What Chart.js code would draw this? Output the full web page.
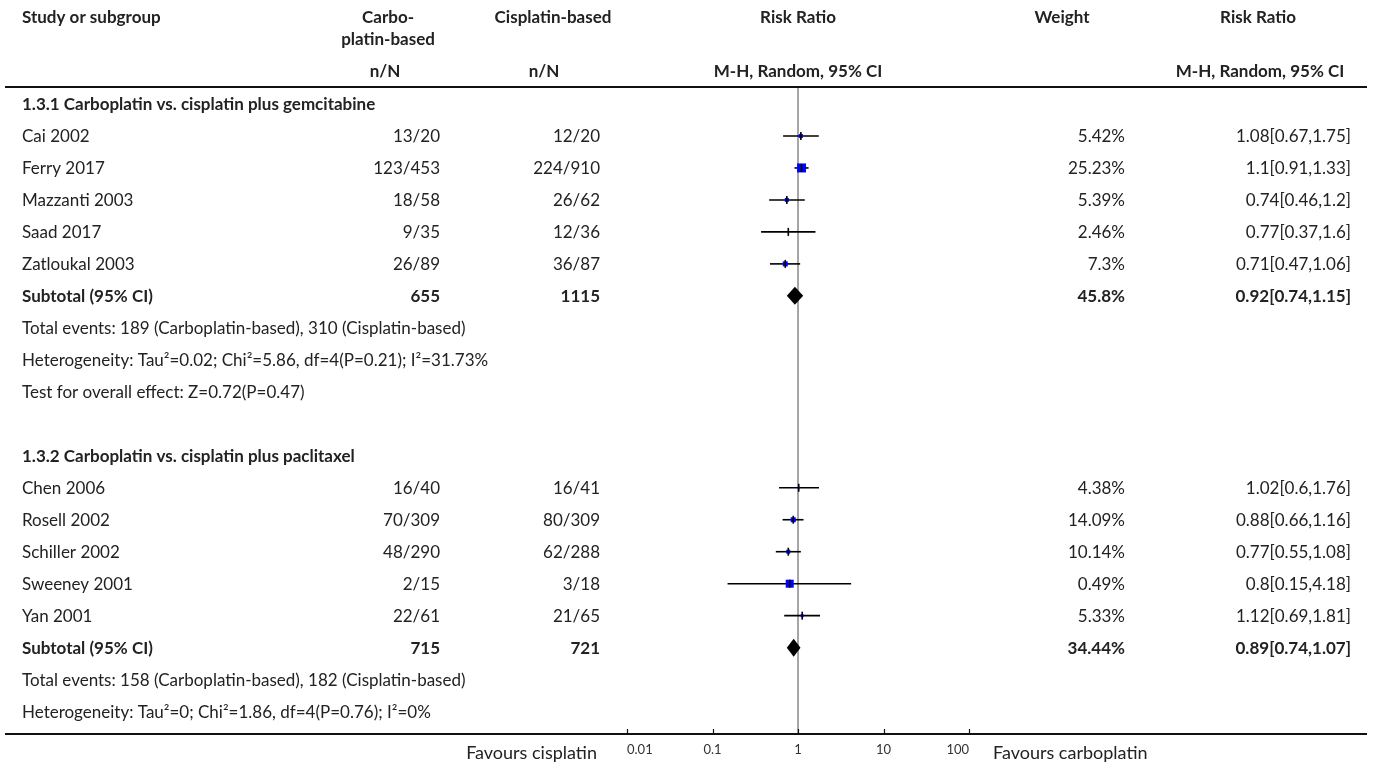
<!DOCTYPE html>
<html>
<head>
<meta charset="utf-8">
<script src="https://cdn.jsdelivr.net/npm/chart.js@4.4.1/dist/chart.umd.min.js"></script>
<style>
  html, body { margin: 0; padding: 0; background: #ffffff; }
  #wrap { width: 1375px; height: 763px; }
</style>
</head>
<body>
<div id="wrap"><canvas id="forest" width="1375" height="763"></canvas></div>
<script>
// ---- Forest plot data: carboplatin-based vs cisplatin-based ----
const groupTitles = [
  '1.3.1 Carboplatin vs. cisplatin plus gemcitabine',
  '1.3.2 Carboplatin vs. cisplatin plus paclitaxel'
];
const studyNames = ['Cai 2002', 'Ferry 2017', 'Mazzanti 2003', 'Saad 2017', 'Zatloukal 2003',
                    'Chen 2006', 'Rosell 2002', 'Schiller 2002', 'Sweeney 2001', 'Yan 2001'];
const studyGroup   = [0, 0, 0, 0, 0, 1, 1, 1, 1, 1];
const carboEvents  = [13, 123, 18, 9, 26, 16, 70, 48, 2, 22];
const carboTotals  = [20, 453, 58, 35, 89, 40, 309, 290, 15, 61];
const cisEvents    = [12, 224, 26, 12, 36, 16, 80, 62, 3, 21];
const cisTotals    = [20, 910, 62, 36, 87, 41, 309, 288, 18, 65];
const weights      = [5.42, 25.23, 5.39, 2.46, 7.3, 4.38, 14.09, 10.14, 0.49, 5.33];
const riskRatios   = [1.08, 1.1, 0.74, 0.77, 0.71, 1.02, 0.88, 0.77, 0.8, 1.12];
const ciLower      = [0.67, 0.91, 0.46, 0.37, 0.47, 0.6, 0.66, 0.55, 0.15, 0.69];
const ciUpper      = [1.75, 1.33, 1.2, 1.6, 1.06, 1.76, 1.16, 1.08, 4.18, 1.81];

const subtotalCarboN = [655, 715];
const subtotalCisN   = [1115, 721];
const subtotalWeight = [45.8, 34.44];
const subtotalRR     = [0.92, 0.89];
const subtotalLower  = [0.74, 0.74];
const subtotalUpper  = [1.15, 1.07];
const totalEventsCarbo = [189, 158];
const totalEventsCis   = [310, 182];
const heterogeneity = [
  'Heterogeneity: Tau\u00b2=0.02; Chi\u00b2=5.86, df=4(P=0.21); I\u00b2=31.73%',
  'Heterogeneity: Tau\u00b2=0; Chi\u00b2=1.86, df=4(P=0.76); I\u00b2=0%'
];
const overallEffect = ['Test for overall effect: Z=0.72(P=0.47)', null];
const axisTicks = [0.01, 0.1, 1, 10, 100];
const favoursLeft = 'Favours cisplatin';
const favoursRight = 'Favours carboplatin';

// ---- Marker styling (box side in px for each study) ----
const boxSide = [4, 9, 4, 0, 5, 2, 5, 4, 8, 3];
const FONT = 'Lato, "Noto Sans", sans-serif';
const FONT_SIZE = 17;
const TEXT = '#222222';

// Build the row layout: each table line sits on an integer row of the y scale.
const rows = [];
const studyRow = [];
const subtotalRow = [];
groupTitles.forEach((title, g) => {
  rows.push({ kind: 'title', text: title });
  studyNames.forEach((name, i) => {
    if (studyGroup[i] !== g) return;
    studyRow[i] = rows.length;
    rows.push({ kind: 'study', i });
  });
  subtotalRow[g] = rows.length;
  rows.push({ kind: 'subtotal', g });
  rows.push({ kind: 'note', text: 'Total events: ' + totalEventsCarbo[g] + ' (Carboplatin-based), ' + totalEventsCis[g] + ' (Cisplatin-based)' });
  rows.push({ kind: 'note', text: heterogeneity[g] });
  if (overallEffect[g]) rows.push({ kind: 'note', text: overallEffect[g] });
  if (g < groupTitles.length - 1) rows.push({ kind: 'blank' });
});
const lastRow = rows.length - 1;

// Confidence-interval whiskers, one line dataset per study
const ciSets = studyNames.map((n, i) => ({
  type: 'line',
  data: [{ x: ciLower[i], y: studyRow[i] }, { x: ciUpper[i], y: studyRow[i] }],
  borderColor: '#000000', borderWidth: 1.6, pointRadius: 0, order: 3
}));

const refLine = {
  type: 'line',
  data: [{ x: 1, y: -0.5 }, { x: 1, y: lastRow + 0.7 }],
  borderColor: '#a6a6a6', borderWidth: 2, pointRadius: 0, order: 5
};

const boxSet = {
  type: 'scatter',
  data: studyNames.map((n, i) => ({ x: riskRatios[i], y: studyRow[i] })),
  pointStyle: 'rect',
  pointRadius: boxSide.map(s => s / Math.SQRT2),
  backgroundColor: '#0000ff', borderWidth: 0, order: 2
};

const tickSet = {
  type: 'scatter',
  data: studyNames.map((n, i) => ({ x: riskRatios[i], y: studyRow[i] })),
  pointStyle: 'line', rotation: 90, pointRadius: 4,
  borderColor: '#000000', borderWidth: 1.6, order: 1
};

// Pooled-estimate diamonds, rules, axis ticks, and all table text
const forestPlugin = {
  id: 'forestTable',
  afterDatasetsDraw(chart) {
    const { ctx, scales: { x, y } } = chart;
    ctx.save();
    ctx.fillStyle = '#000000';
    subtotalRR.forEach((rr, g) => {
      const py = y.getPixelForValue(subtotalRow[g]);
      ctx.beginPath();
      ctx.moveTo(x.getPixelForValue(subtotalLower[g]), py);
      ctx.lineTo(x.getPixelForValue(rr), py - 9);
      ctx.lineTo(x.getPixelForValue(subtotalUpper[g]), py);
      ctx.lineTo(x.getPixelForValue(rr), py + 9);
      ctx.closePath();
      ctx.fill();
    });
    ctx.restore();
  },
  afterDraw(chart) {
    const { ctx, chartArea, scales: { x, y } } = chart;
    const W = chart.width;
    ctx.save();
    // rules
    ctx.strokeStyle = '#111111';
    ctx.lineWidth = 2;
    ctx.beginPath();
    ctx.moveTo(5, 87); ctx.lineTo(W - 8, 87);
    ctx.moveTo(5, chartArea.bottom); ctx.lineTo(W - 8, chartArea.bottom);
    ctx.stroke();
    ctx.lineWidth = 1.2;
    ctx.beginPath();
    axisTicks.forEach(v => {
      const px = Math.round(x.getPixelForValue(v)) + 0.5;
      ctx.moveTo(px, chartArea.bottom);
      ctx.lineTo(px, chartArea.bottom - 5);
    });
    ctx.stroke();

    const text = (s, px, py, align, bold, size) => {
      ctx.font = (bold ? 'bold ' : '') + (size || FONT_SIZE) + 'px ' + FONT;
      ctx.textAlign = align;
      ctx.textBaseline = 'middle';
      ctx.fillStyle = TEXT;
      ctx.fillText(s, px, py);
    };
    // header
    text('Study or subgroup', 22, 18, 'left', true);
    text('Carbo-', 388, 18, 'center', true);
    text('platin-based', 388, 40, 'center', true);
    text('Cisplatin-based', 553, 18, 'center', true);
    text('Risk Ratio', 798, 18, 'center', true);
    text('Weight', 1062, 18, 'center', true);
    text('Risk Ratio', 1258, 18, 'center', true);
    text('n/N', 385, 72, 'center', true);
    text('n/N', 544, 72, 'center', true);
    text('M-H, Random, 95% CI', 798, 72, 'center', true);
    text('M-H, Random, 95% CI', 1260, 72, 'center', true);

    rows.forEach((r, k) => {
      const py = y.getPixelForValue(k) + 1;
      if (r.kind === 'title') text(r.text, 22, py, 'left', true);
      else if (r.kind === 'note') text(r.text, 22, py, 'left', false);
      else if (r.kind === 'study') {
        const i = r.i;
        text(studyNames[i], 22, py, 'left', false);
        text(carboEvents[i] + '/' + carboTotals[i], 440, py, 'right', false);
        text(cisEvents[i] + '/' + cisTotals[i], 600, py, 'right', false);
        text(weights[i] + '%', 1125, py, 'right', false);
        text(riskRatios[i] + '[' + ciLower[i] + ',' + ciUpper[i] + ']', 1351, py, 'right', false);
      } else if (r.kind === 'subtotal') {
        const g = r.g;
        text('Subtotal (95% CI)', 22, py, 'left', true);
        text(String(subtotalCarboN[g]), 440, py, 'right', true);
        text(String(subtotalCisN[g]), 600, py, 'right', true);
        text(subtotalWeight[g] + '%', 1125, py, 'right', true);
        text(subtotalRR[g] + '[' + subtotalLower[g] + ',' + subtotalUpper[g] + ']', 1351, py, 'right', true);
      }
    });
    const fy = chartArea.bottom + 19;
    text(favoursLeft, x.getPixelForValue(0.01) - 30, fy, 'right', false, 18);
    text(favoursRight, x.getPixelForValue(100) + 24, fy, 'left', false, 18);
    ctx.restore();
  }
};

new Chart(document.getElementById('forest'), {
  type: 'scatter',
  data: { datasets: [...ciSets, refLine, boxSet, tickSet] },
  options: {
    responsive: false,
    animation: false,
    devicePixelRatio: 1,
    layout: { padding: { left: 627, right: 1375 - 969, top: 88, bottom: 0 } },
    plugins: { legend: { display: false }, tooltip: { enabled: false } },
    scales: {
      x: {
        type: 'logarithmic',
        min: 0.01, max: 100,
        afterBuildTicks: s => { s.ticks = axisTicks.map(v => ({ value: v })); },
        afterFit: s => { s.height = 29; },
        grid: { display: false, drawTicks: false },
        border: { display: false },
        ticks: {
          autoSkip: false, maxRotation: 0, padding: 8, align: 'inner',
          color: '#333333',
          font: { family: FONT, size: 13 },
          callback: v => String(v)
        }
      },
      y: {
        type: 'linear',
        reverse: true,
        min: -0.5, max: lastRow + 0.7,
        display: false
      }
    }
  },
  plugins: [forestPlugin]
});
</script>
</body>
</html>
